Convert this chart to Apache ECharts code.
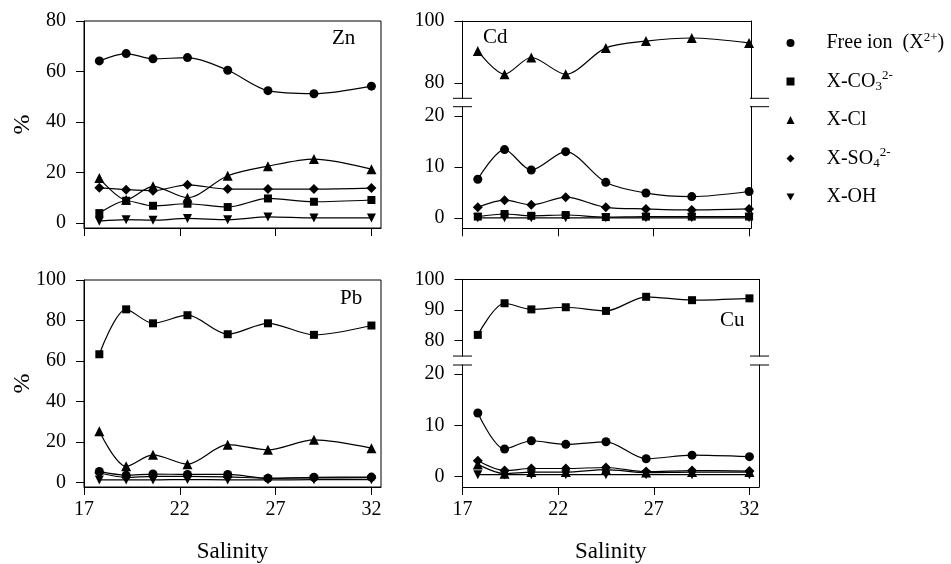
<!DOCTYPE html>
<html><head><meta charset="utf-8">
<script src="https://cdn.jsdelivr.net/npm/echarts@6/dist/echarts.min.js"></script>
<style>html,body{margin:0;padding:0;background:#fff}#c{width:951px;height:564px}</style>
</head><body><div id="c"></div>
<script>
// ---------- data ----------
const salinity = [17.8, 19.2, 20.6, 22.4, 24.5, 26.6, 29.0, 32.0];
const xTicks = [17, 22, 27, 32];
const speciesNames = ['Free ion', 'X-CO3', 'X-Cl', 'X-SO4', 'X-OH'];

const znFree = [64.2, 67.1, 65.0, 65.5, 60.5, 52.4, 51.2, 54.2];
const znCO3  = [3.9, 8.8, 6.8, 7.6, 6.3, 9.7, 8.4, 9.1];
const znCl   = [17.8, 9.2, 14.5, 10.0, 18.7, 22.5, 25.3, 21.3];
const znSO4  = [13.9, 13.2, 12.8, 15.1, 13.4, 13.4, 13.4, 13.8];
const znOH   = [0.7, 1.3, 1.1, 1.8, 1.3, 2.4, 2.0, 2.0];

const cdFree = [7.6, 13.4, 9.4, 13.0, 7.0, 4.9, 4.2, 5.2];
const cdCO3  = [0.3, 0.8, 0.45, 0.6, 0.2, 0.3, 0.3, 0.3];
const cdCl   = [90.3, 82.8, 88.2, 82.8, 91.3, 93.5, 94.5, 92.9];
const cdSO4  = [2.1, 3.5, 2.6, 4.1, 2.1, 1.8, 1.6, 1.8];
const cdOH   = [0.05, 0.05, 0.05, 0.05, 0.05, 0.05, 0.05, 0.05];

const pbFree = [5.4, 3.5, 4.1, 3.9, 3.9, 2.0, 2.5, 2.6];
const pbCO3  = [63.3, 85.5, 78.6, 82.6, 73.2, 78.6, 72.9, 77.5];
const pbCl   = [25.2, 7.9, 13.6, 9.0, 18.6, 16.1, 21.0, 16.9];
const pbSO4  = [4.6, 2.5, 3.0, 3.0, 2.7, 2.0, 2.2, 2.3];
const pbOH   = [1.2, 1.2, 1.2, 1.4, 1.2, 1.2, 1.3, 1.3];

const cuFree = [12.4, 5.4, 7.0, 6.3, 6.8, 3.5, 4.2, 3.9];
const cuCO3  = [81.9, 92.2, 90.2, 90.9, 89.7, 94.3, 93.2, 93.8];
const cuCl   = [2.4, 0.6, 0.9, 0.9, 1.4, 0.8, 0.9, 0.9];
const cuSO4  = [3.1, 1.2, 1.6, 1.6, 1.8, 1.0, 1.2, 1.1];
const cuOH   = [0.4, 0.4, 0.4, 0.4, 0.4, 0.4, 0.4, 0.4];

const znTicks = [0, 20, 40, 60, 80];
const pbTicks = [0, 20, 40, 60, 80, 100];
const cdUpperTicks = [80, 100];
const cuUpperTicks = [80, 90, 100];
const lowerTicks = [0, 10, 20];

// ---------- style ----------
const FONT = 'Liberation Serif';
const symbols = {
  'Free ion': {symbol: 'circle', size: 9},
  'X-CO3': {symbol: 'rect', size: 8},
  'X-Cl': {symbol: 'triangle', size: 10},
  'X-SO4': {symbol: 'diamond', size: 10},
  'X-OH': {symbol: 'path://M0,0L10,0L5,9Z', size: 9}
};

// grids: 0 Zn, 1 Cd upper, 2 Cd lower, 3 Pb, 4 Cu upper, 5 Cu lower
const grids = [
  {left: 84, top: 21, width: 297, height: 207, show: true, borderColor: '#000', borderWidth: 1},
  {left: 462.5, top: 21, width: 288.5, height: 77.3},
  {left: 462.5, top: 106.7, width: 288.5, height: 121.6},
  {left: 84, top: 280, width: 297, height: 207, show: true, borderColor: '#000', borderWidth: 1},
  {left: 462.5, top: 279.3, width: 296.5, height: 76.75},
  {left: 462.5, top: 365, width: 296.5, height: 122.3}
];

function xAx(grid, max, opts) {
  return Object.assign({
    type: 'value', gridIndex: grid, min: 17, max: max, position: 'bottom',
    splitLine: {show: false},
    axisLine: {show: true, onZero: false, lineStyle: {color: '#000', width: 1}},
    axisTick: {show: true, length: 8, customValues: xTicks, lineStyle: {color: '#000'}},
    axisLabel: {show: false, customValues: xTicks, margin: 13, color: '#000', fontFamily: FONT, fontSize: 20}
  }, opts || {});
}
function yAx(grid, min, max, ticks, opts) {
  return Object.assign({
    type: 'value', gridIndex: grid, min: min, max: max, position: 'left',
    splitLine: {show: false},
    axisLine: {show: true, onZero: false, lineStyle: {color: '#000', width: 1}},
    axisTick: {show: true, length: 8, customValues: ticks, lineStyle: {color: '#000'}},
    axisLabel: {show: true, customValues: ticks, margin: 18, color: '#000', fontFamily: FONT, fontSize: 20}
  }, opts || {});
}
function frameY(grid, min, max) {
  return {type: 'value', gridIndex: grid, min: min, max: max, position: 'right',
    splitLine: {show: false}, axisTick: {show: false}, axisLabel: {show: false},
    axisLine: {show: true, onZero: false, lineStyle: {color: '#000', width: 1}}};
}
const pctName = {name: '%', nameLocation: 'middle', nameGap: 49, nameRotate: 90, nameMoveOverlap: false,
  nameTextStyle: {fontFamily: FONT, fontSize: 24, color: '#000'}};
const salName = {name: 'Salinity', nameLocation: 'middle', nameGap: 53, nameMoveOverlap: false,
  nameTextStyle: {fontFamily: FONT, fontSize: 23, color: '#000'}};
const labelsOn = {show: true, customValues: xTicks, margin: 13, color: '#000', fontFamily: FONT, fontSize: 20};

const xAxes = [
  xAx(0, 32.5),
  xAx(1, 32.1, {position: 'top', axisTick: {show: false}, axisLabel: {show: false}}),
  xAx(2, 32.1),
  Object.assign(xAx(3, 32.5, {axisLabel: labelsOn}), salName),
  xAx(4, 32.5, {position: 'top', axisTick: {show: false}, axisLabel: {show: false}}),
  Object.assign(xAx(5, 32.5, {axisLabel: labelsOn}), salName)
];
const yAxes = [
  Object.assign(yAx(0, -2, 80, znTicks), pctName),
  yAx(1, 75, 100, cdUpperTicks),
  yAx(2, -2, 21.8, lowerTicks),
  Object.assign(yAx(3, -2.3, 100, pbTicks), pctName),
  yAx(4, 75, 100, cuUpperTicks),
  yAx(5, -2, 21.75, lowerTicks),
  frameY(1, 75, 100), frameY(2, -2, 21.8), frameY(4, 75, 100), frameY(5, -2, 21.75)
];

function ser(name, values, axisIndex) {
  return {
    type: 'line', name: name, xAxisIndex: axisIndex, yAxisIndex: axisIndex,
    data: salinity.map((s, i) => [s, values[i]]),
    smooth: 0.3, symbol: symbols[name].symbol, symbolSize: symbols[name].size,
    lineStyle: {color: '#000', width: 1.2}, itemStyle: {color: '#000'},
    emphasis: {disabled: true}, animation: false
  };
}
const series = [
  ser('Free ion', znFree, 0), ser('X-CO3', znCO3, 0), ser('X-Cl', znCl, 0), ser('X-SO4', znSO4, 0), ser('X-OH', znOH, 0),
  ser('X-Cl', cdCl, 1),
  ser('Free ion', cdFree, 2), ser('X-CO3', cdCO3, 2), ser('X-SO4', cdSO4, 2), ser('X-OH', cdOH, 2),
  ser('Free ion', pbFree, 3), ser('X-CO3', pbCO3, 3), ser('X-Cl', pbCl, 3), ser('X-SO4', pbSO4, 3), ser('X-OH', pbOH, 3),
  ser('X-CO3', cuCO3, 4),
  ser('Free ion', cuFree, 5), ser('X-Cl', cuCl, 5), ser('X-SO4', cuSO4, 5), ser('X-OH', cuOH, 5)
];

const legendLabels = {
  'Free ion': '{g| }{t|Free ion  (X}{sup|2+}{t|)}',
  'X-CO3': '{g| }{t|X-CO}{sub|3}{sup|2-}',
  'X-Cl': '{g| }{t|X-Cl}',
  'X-SO4': '{g| }{t|X-SO}{sub|4}{sup|2-}',
  'X-OH': '{g| }{t|X-OH}'
};

function titleAt(text, left, top) {
  return {text: text, left: left, top: top, padding: 0,
    textStyle: {fontFamily: FONT, fontSize: 21, fontWeight: 'normal', color: '#000'}};
}

// break marks
function breakMarks(g1, g2, rightX) {
  const L = g1.left, ub = g1.top + g1.height, lt = g2.top;
  const st = {stroke: '#000', lineWidth: 1};
  return [
    {type: 'line', shape: {x1: L - 9.5, y1: ub, x2: L + 9.5, y2: ub}, style: st},
    {type: 'line', shape: {x1: L - 9.5, y1: lt, x2: L + 9.5, y2: lt}, style: st},
    {type: 'line', shape: {x1: rightX - 9.5, y1: ub, x2: rightX + 9.5, y2: ub}, style: st},
    {type: 'line', shape: {x1: rightX - 9.5, y1: lt, x2: rightX + 9.5, y2: lt}, style: st}
  ];
}

const chart = echarts.init(document.getElementById('c'), null, {renderer: 'canvas'});
chart.setOption({
  backgroundColor: '#fff',
  animation: false,
  title: [titleAt('Zn', 332, 28), titleAt('Cd', 483, 27), titleAt('Pb', 340, 288), titleAt('Cu', 720, 310)],
  grid: grids,
  xAxis: xAxes,
  yAxis: yAxes,
  series: series,
  legend: {
    orient: 'vertical', left: 786.5, top: 31, itemWidth: 8, itemHeight: 8, itemGap: 16.5,
    selectedMode: false, padding: 0,
    data: speciesNames.map(n => ({name: n, icon: symbols[n].symbol, itemStyle: {color: '#000'}})),
    formatter: n => legendLabels[n],
    textStyle: {
      color: '#000', fontFamily: FONT, fontSize: 20,
      rich: {
        g: {width: 27, lineHeight: 24, fontFamily: FONT, fontSize: 20},
        t: {fontFamily: FONT, fontSize: 20, lineHeight: 24, color: '#000'},
        sup: {fontFamily: FONT, fontSize: 13, lineHeight: 11, verticalAlign: 'top', color: '#000'},
        sub: {fontFamily: FONT, fontSize: 13, lineHeight: 11, verticalAlign: 'bottom', color: '#000'}
      }
    }
  },
  graphic: breakMarks(grids[1], grids[2], 759.5).concat(breakMarks(grids[4], grids[5], 759.5))
});
</script>
</body></html>
